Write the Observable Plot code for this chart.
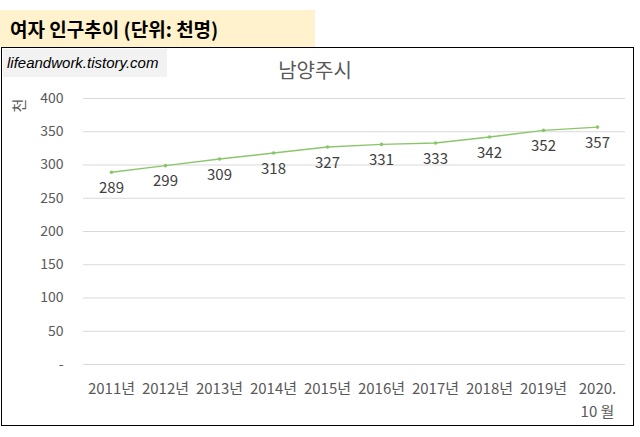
<!DOCTYPE html>
<html>
<head>
<meta charset="utf-8">
<script src="https://cdn.jsdelivr.net/npm/d3@7"></script>
<script src="https://cdn.jsdelivr.net/npm/@observablehq/plot@0.6"></script>
<style>
  html, body { margin: 0; padding: 0; background: #fff; }
  body { width: 640px; height: 437px; position: relative; overflow: hidden; font-family: "Noto Sans CJK KR", "Noto Sans", sans-serif; }
  #chart { position: absolute; left: 0; top: 0; }
  .header { position: absolute; left: 0; top: 10px; width: 315px; height: 37px; background: #fff2cc; font-weight: bold; font-size: 19px; line-height: 37px; padding-left: 10px; box-sizing: border-box; color: #000; }
  .frame { position: absolute; left: 1px; top: 47px; width: 633px; height: 379px; border: 1.5px solid #000; box-sizing: border-box; pointer-events: none; }
  .wm { position: absolute; left: 3px; top: 49px; width: 164px; height: 28px; background: #f2f2f2; font-family: "Liberation Sans", sans-serif; font-style: italic; font-size: 15px; line-height: 28px; padding-left: 4px; box-sizing: border-box; color: #000; }
  .title { position: absolute; left: 0; width: 630px; top: 55px; text-align: center; font-size: 20px; color: #595959; }
  .ylab { position: absolute; left: 12px; top: 95px; font-size: 15px; color: #595959; transform: rotate(-90deg); }
</style>
</head>
<body>
<div id="chart"></div>
<div class="header">여자 인구추이 (단위: 천명)</div>
<div class="frame"></div>
<div class="wm">lifeandwork.tistory.com</div>
<div class="title">남양주시</div>
<div class="ylab">천</div>
<script>
const years = ["2011년","2012년","2013년","2014년","2015년","2016년","2017년","2018년","2019년","2020.\n10 월"];
const values = [289,299,309,318,327,331,333,342,352,357];
const yTicks = [0,50,100,150,200,250,300,350,400];

const data = years.map((year, i) => ({year, value: values[i]}));
const green = "#8cc66b";

const chart = Plot.plot({
  width: 640,
  height: 437,
  marginLeft: 83,
  marginRight: 15,
  marginTop: 98,
  marginBottom: 73,
  style: {fontFamily: "'Noto Sans CJK KR', 'Noto Sans', sans-serif", background: "transparent"},
  x: {type: "point", domain: years, padding: 0.5},
  y: {domain: [0, 400]},
  marks: [
    Plot.gridY(yTicks, {stroke: "#d9d9d9", strokeOpacity: 1, strokeWidth: 1}),
    Plot.axisY(yTicks, {tickSize: 0, tickPadding: 20, fontSize: 14, color: "#595959", label: null,
      tickFormat: d => d === 0 ? "-" : String(d)}),
    Plot.axisX({tickSize: 0, tickPadding: 14, fontSize: 15, lineHeight: 1.5, color: "#595959", label: null}),
    Plot.line(data, {x: "year", y: "value", stroke: green, strokeWidth: 1.4}),
    Plot.dot(data, {x: "year", y: "value", r: 1.8, fill: green, stroke: "none"}),
    Plot.text(data, {x: "year", y: "value", text: d => String(d.value), dy: 16, fontSize: 15, fill: "#404040"})
  ]
});
document.getElementById("chart").appendChild(chart);
</script>
</body>
</html>
